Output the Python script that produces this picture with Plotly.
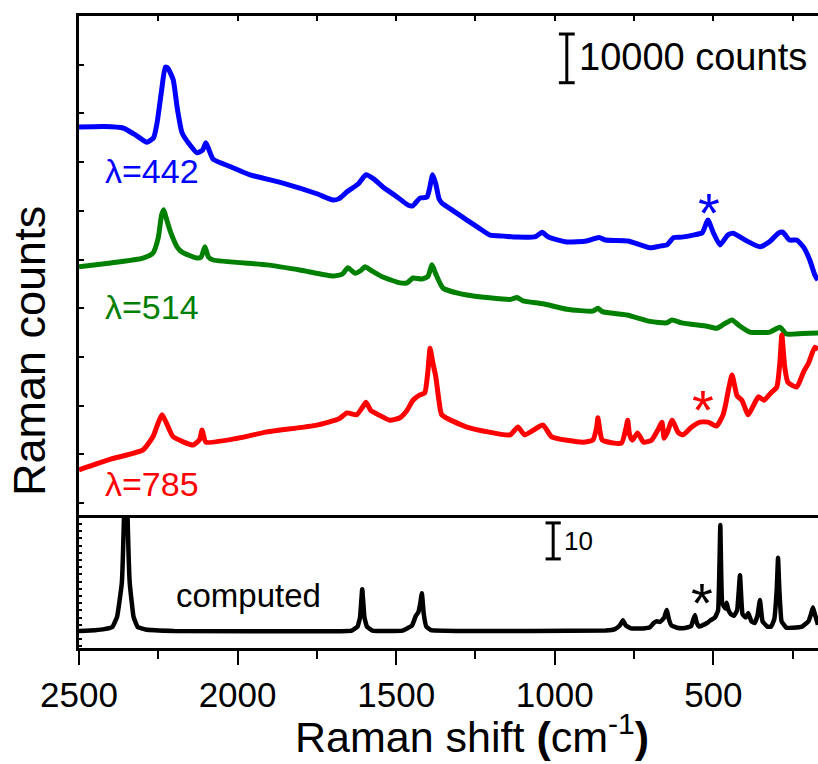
import plotly.graph_objects as go

# ---------------- data ----------------
# Experimental spectra, top panel (values in thousands of counts, stacked offsets)
wn_442 = [2500, 2420, 2361, 2320, 2286, 2265, 2254, 2240, 2228, 2220, 2203, 2190, 2175, 2150,
          2128, 2110, 2100, 2090, 2077, 2020, 1961, 1857, 1750, 1699, 1680, 1655, 1620, 1595,
          1570, 1542, 1500, 1463, 1448, 1425, 1403, 1395, 1385, 1375, 1365, 1356, 1320, 1277,
          1240, 1204, 1160, 1119, 1060, 1040, 1020, 962, 900, 860, 840, 769, 700, 665, 646,
          625, 600, 564, 535, 517, 500, 479, 455, 438, 400, 353, 320, 295, 281, 260, 237, 215,
          196, 180, 170]
cnt_442 = [77.2, 77.3, 77.0, 75.5, 74.1, 75.0, 78.0, 84.5, 89.5, 89.3, 86.9, 81.0, 76.0, 73.5,
           71.9, 72.5, 74.0, 72.5, 70.6, 69.0, 67.4, 65.7, 63.5, 62.2, 62.5, 63.9, 65.5, 67.4,
           66.5, 64.9, 63.0, 61.2, 61.0, 62.6, 62.8, 64.5, 67.4, 65.5, 62.5, 61.6, 60.0, 58.1,
           56.5, 55.0, 54.8, 54.6, 54.7, 55.6, 54.6, 53.6, 53.8, 54.5, 54.0, 53.8, 52.4, 52.8, 53.0,
           54.5, 54.6, 55.0, 55.5, 58.1, 55.5, 53.0, 55.0, 55.4, 54.0, 52.6, 53.8, 55.4, 55.6, 54.0,
           54.0, 52.5, 49.9, 46.8, 45.8]

wn_514 = [2500, 2400, 2298, 2267, 2250, 2240, 2233, 2225, 2210, 2190, 2175, 2128, 2115, 2103,
          2092, 2077, 1907, 1800, 1699, 1670, 1652, 1630, 1610, 1598, 1580, 1542, 1488, 1466,
          1447, 1420, 1400, 1387, 1375, 1352, 1277, 1140, 1119, 1100, 1037, 962, 880, 864, 850,
          772, 700, 647, 630, 600, 520, 489, 465, 441, 420, 385, 322, 290, 270, 220, 170]
cnt_514 = [48.5, 49.3, 50.3, 51.3, 54.5, 59.0, 60.2, 58.5, 55.4, 52.5, 51.5, 50.3, 50.5, 52.6,
           50.5, 49.9, 48.9, 47.8, 46.6, 47.0, 48.3, 47.2, 47.8, 48.5, 47.8, 46.4, 45.2, 45.2,
           46.2, 46.0, 46.5, 48.9, 47.0, 44.1, 42.7, 41.8, 42.2, 41.5, 40.9, 39.8, 39.4, 40.0, 39.3,
           38.6, 37.3, 37.0, 37.6, 37.0, 36.3, 35.9, 36.8, 37.6, 36.5, 35.1, 35.1, 36.1, 34.7, 34.8,
           34.9]

wn_785 = [2500, 2400, 2298, 2267, 2250, 2238, 2225, 2203, 2140, 2120, 2112, 2100, 2000, 1907,
          1750, 1680, 1655, 1625, 1608, 1595, 1580, 1555, 1520, 1488, 1466, 1447, 1425, 1410,
          1400, 1393, 1385, 1375, 1365, 1356, 1277, 1141, 1116, 1095, 1037, 1010, 911, 880, 868,
          864, 858, 850, 790, 775, 770, 764, 755, 739, 720, 695, 675, 662, 655, 645, 630, 610,
          595, 570, 542, 517, 490, 470, 463, 450, 441, 425, 410, 390, 370, 358, 340, 320, 300,
          290, 284, 275, 265, 237, 215, 200, 180, 170]
cnt_785 = [6.8, 9.0, 10.9, 13.6, 16.5, 18.1, 16.5, 13.6, 11.9, 13.0, 15.0, 12.5, 13.3, 14.6,
           16.0, 17.3, 18.5, 18.1, 19.5, 20.7, 19.0, 18.1, 17.0, 17.5, 19.0, 21.1, 22.2, 22.6,
           27.0, 31.8, 29.0, 25.9, 21.0, 18.1, 15.6, 14.0, 15.6, 14.0, 16.0, 13.6, 12.5, 12.9, 15.5,
           17.5, 15.0, 12.9, 12.3, 15.5, 17.0, 14.0, 12.9, 14.4, 12.5, 12.9, 15.0, 16.6, 13.3, 14.5,
           17.0, 14.4, 14.0, 15.5, 16.6, 16.6, 15.8, 18.0, 19.7, 24.0, 26.3, 22.0, 21.1, 18.1, 20.5,
           21.8, 21.1, 22.5, 23.8, 29.0, 34.5, 28.0, 24.8, 23.8, 27.0, 28.7, 32.0, 31.5]

# Computed spectrum, bottom panel (arbitrary units)
wn_calc = [2500, 2450, 2420, 2395, 2380, 2365, 2358, 2352, 2347, 2340, 2328, 2315, 2290, 2200,
           1700, 1640, 1622, 1614, 1607, 1600, 1592, 1575, 1480, 1450, 1438, 1430, 1424, 1419,
           1413, 1405, 1390, 1300, 840, 810, 795, 785, 776, 760, 720, 700, 688, 678, 668, 655,
           647, 640, 632, 615, 590, 570, 565, 558, 552, 545, 533, 520, 510, 495, 485, 478, 472,
           462, 458, 452, 445, 435, 425, 416, 408, 398, 390, 380, 370, 361, 353, 345, 330, 318,
           308, 300, 296, 292, 285, 270, 250, 220, 200, 192, 186, 180, 170]
int_calc = [0.3, 0.5, 0.8, 1.4, 4.2, 13.6, 32.5, 60.0, 32.5, 13.6, 4.2, 1.4, 0.7, 0.3,
            0.2, 0.4, 1.5, 4.0, 11.9, 4.0, 1.5, 0.4, 0.4, 1.8, 4.5, 5.5, 8.0, 10.8,
            5.0, 1.5, 0.5, 0.3, 0.4, 0.8, 1.8, 3.3, 1.8, 1.0, 1.0, 1.3, 2.5, 3.0, 2.8, 4.0,
            6.1, 3.5, 1.8, 1.2, 1.1, 1.6, 3.0, 4.7, 2.5, 1.5, 1.9, 2.5, 3.2, 4.0, 6.0, 29.7, 8.0,
            6.5, 8.1, 6.0, 5.0, 4.5, 6.0, 15.8, 5.0, 4.0, 5.3, 3.0, 2.5, 4.5, 8.9, 3.0, 1.5, 1.5,
            3.5, 12.0, 20.6, 12.0, 3.0, 1.2, 1.2, 1.5, 3.0, 5.0, 6.9, 5.0, 2.0]

labels = ["λ=442", "λ=514", "λ=785"]
colors = ["#0000FF", "#008000", "#FF0000"]

# axes ranges
X_RANGE = [2500, 170]
Y_TOP_RANGE = [-2.46, 100]
Y_BOT_RANGE = [-4.44, 32.5]

# scale bars (data coordinates)
BAR_TOP = dict(x=962, y0=86.3, y1=96.3, half=25)
BAR_BOT = dict(x=1005, y0=20.3, y1=30.3, half=24)

# ---------------- figure ----------------
FONT = "Liberation Sans, Arial, sans-serif"
W, H = 818, 764
ML, MR, MT, MB = 79, 0, 16, 116
split = (648 - 515) / (H - MT - MB)

fig = go.Figure()
for wn, c, col in zip([wn_442, wn_514, wn_785], [cnt_442, cnt_514, cnt_785], colors):
    fig.add_trace(go.Scatter(x=wn, y=c, mode="lines",
                             line=dict(color=col, width=5, shape="spline", smoothing=0.5),
                             xaxis="x2", yaxis="y2", showlegend=False, hoverinfo="skip"))
fig.add_trace(go.Scatter(x=wn_calc, y=int_calc, mode="lines",
                         line=dict(color="black", width=4.5, shape="spline", smoothing=0.3),
                         xaxis="x", yaxis="y", showlegend=False, hoverinfo="skip"))

axis_common = dict(showgrid=False, zeroline=False, showline=True, linecolor="black",
                   linewidth=3, tickcolor="black", tickwidth=2)

fig.update_layout(
    width=W, height=H,
    margin=dict(l=ML, r=MR, t=MT, b=MB),
    plot_bgcolor="white", paper_bgcolor="white",
    font=dict(family=FONT, color="black"),
    xaxis=dict(**axis_common, range=X_RANGE, anchor="y", domain=[0, 1],
               ticks="outside", ticklen=14, tick0=500, dtick=500,
               tickfont=dict(size=35, family=FONT),
               minor=dict(ticks="outside", ticklen=8, dtick=250, tick0=250,
                          tickcolor="black", tickwidth=2)),
    yaxis=dict(**axis_common, range=Y_BOT_RANGE, domain=[0, split], anchor="x",
               ticks="inside", ticklen=3, dtick=2, tick0=0, showticklabels=False),
    xaxis2=dict(**axis_common, range=X_RANGE, anchor="y2", side="top", mirror=True,
                ticks="inside", ticklen=5, dtick=250, tick0=0, showticklabels=False),
    yaxis2=dict(**axis_common, range=Y_TOP_RANGE, domain=[split, 1], anchor="x2",
                ticks="inside", ticklen=5, dtick=10, tick0=0, showticklabels=False),
)

# scale bars
for bar, xa, ya in [(BAR_TOP, "x2", "y2"), (BAR_BOT, "x", "y")]:
    line = dict(color="black", width=3)
    fig.add_shape(type="line", xref=xa, yref=ya, x0=bar["x"], x1=bar["x"],
                  y0=bar["y0"], y1=bar["y1"], line=line)
    for yy in (bar["y0"], bar["y1"]):
        fig.add_shape(type="line", xref=xa, yref=ya, x0=bar["x"] + bar["half"],
                      x1=bar["x"] - bar["half"], y0=yy, y1=yy, line=line)


def px(x):
    return (x - ML) / (W - ML - MR)


def py(y):
    return (H - MB - y) / (H - MT - MB)


def txt(text, x, y, size, color="black", xanchor="left", yanchor="middle"):
    fig.add_annotation(text=text, x=px(x), y=py(y), xref="paper", yref="paper",
                       showarrow=False, xanchor=xanchor, yanchor=yanchor,
                       font=dict(size=size, color=color, family=FONT))


txt(labels[0], 103, 171, 34, colors[0])
txt(labels[1], 103, 307, 34, colors[1])
txt(labels[2], 103, 484, 34, colors[2])
txt("10000 counts", 577, 57, 38)
txt("10", 562, 541, 26)
txt("computed", 174, 595, 33)
txt("*", 709, 212, 56, colors[0], xanchor="center")
txt("*", 703, 409, 56, colors[2], xanchor="center")
txt("*", 702, 602, 56, "black", xanchor="center")

# axis titles
fig.add_annotation(text="Raman shift <b>(</b>cm<sup>-1</sup><b>)</b>", x=px(472), y=py(734),
                   xref="paper", yref="paper", showarrow=False,
                   xanchor="center", yanchor="middle", font=dict(size=43, family=FONT))
fig.add_annotation(text="Raman counts", x=px(30), y=py(351), xref="paper", yref="paper",
                   showarrow=False, textangle=-90, xanchor="center", yanchor="middle",
                   font=dict(size=45, family=FONT))

fig.write_html("out.html")
